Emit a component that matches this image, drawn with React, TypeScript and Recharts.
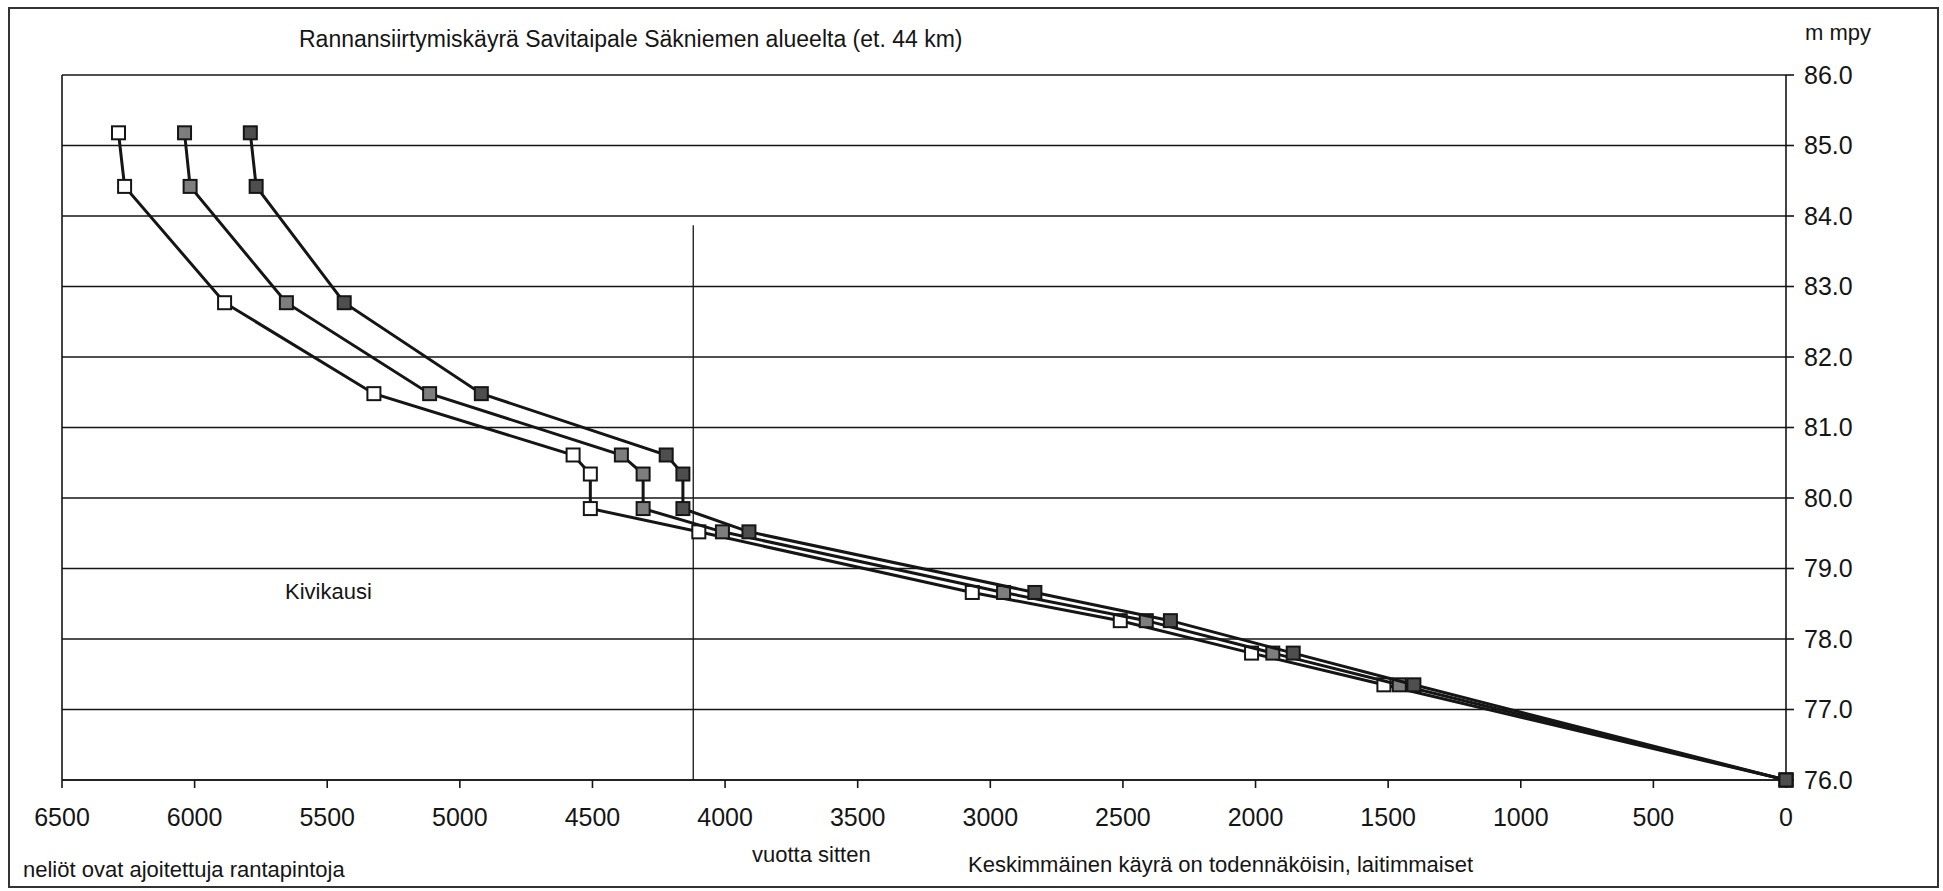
import React from 'react';
import {
  ScatterChart,
  Scatter,
  XAxis,
  YAxis,
  CartesianGrid,
  ReferenceLine,
} from 'recharts';

// shore levels (m above sea level), shared by all three curves
const heights = [85.18, 84.42, 82.77, 81.48, 80.61, 80.34, 79.85, 79.52, 78.66, 78.26, 77.8, 77.35, 76.0];
// years before present for each curve
const yearsOldest = [6287, 6264, 5887, 5324, 4573, 4508, 4508, 4099, 3068, 2510, 2015, 1516, 0];
const yearsMiddle = [6038, 6017, 5654, 5114, 4391, 4309, 4309, 4010, 2950, 2412, 1935, 1458, 0];
const yearsYoungest = [5790, 5768, 5436, 4919, 4222, 4159, 4159, 3910, 2832, 2321, 1858, 1403, 0];

const xTicks = [0, 500, 1000, 1500, 2000, 2500, 3000, 3500, 4000, 4500, 5000, 5500, 6000, 6500];
const yTicks = [76, 77, 78, 79, 80, 81, 82, 83, 84, 85, 86];

const stoneAgeYear = 4120;
const stoneAgeTop = 83.87;

const W = 1943;
const H = 891;
const FONT = '"Liberation Sans", Arial, sans-serif';
const INK = '#151515';

const toPoints = (years: number[]) => years.map((x, i) => ({ x, y: heights[i] }));

const square = (fill: string) => (props: any) => (
  <rect
    x={props.cx - 6.5}
    y={props.cy - 6.5}
    width={13}
    height={13}
    fill={fill}
    stroke={INK}
    strokeWidth={2}
  />
);

export default function App() {
  return (
    <div style={{ position: 'absolute', left: 0, top: 0, width: W, height: H, background: '#fff' }}>
      <ScatterChart
        width={W}
        height={H}
        margin={{ top: 75, right: 57, bottom: 51, left: 62 }}
      >
        <CartesianGrid vertical={false} stroke={INK} strokeWidth={1.6} />
        <XAxis
          type="number"
          dataKey="x"
          reversed
          domain={[0, 6500]}
          ticks={xTicks}
          height={60}
          interval={0}
          tickSize={8}
          tickMargin={20}
          stroke={INK}
          strokeWidth={1.6}
          tick={{ fontSize: 25, fill: INK, fontFamily: FONT }}
        />
        <YAxis
          type="number"
          dataKey="y"
          orientation="right"
          domain={[76, 86]}
          ticks={yTicks}
          width={100}
          interval={0}
          tickSize={8}
          tickMargin={10}
          stroke={INK}
          strokeWidth={1.6}
          tickFormatter={(v: number) => v.toFixed(1)}
          tick={{ fontSize: 25, fill: INK, fontFamily: FONT, textAnchor: 'start' }}
        />
        <ReferenceLine x={6500} stroke={INK} strokeWidth={1.6} />
        <ReferenceLine
          segment={[
            { x: stoneAgeYear, y: 76 },
            { x: stoneAgeYear, y: stoneAgeTop },
          ]}
          stroke={INK}
          strokeWidth={1.3}
        />
        <Scatter
          data={toPoints(yearsOldest)}
          line={{ stroke: INK, strokeWidth: 3 }}
          shape={square('#ffffff')}
          isAnimationActive={false}
        />
        <Scatter
          data={toPoints(yearsMiddle)}
          line={{ stroke: INK, strokeWidth: 3 }}
          shape={square('#7e7e7e')}
          isAnimationActive={false}
        />
        <Scatter
          data={toPoints(yearsYoungest)}
          line={{ stroke: INK, strokeWidth: 3 }}
          shape={square('#4e4e4e')}
          isAnimationActive={false}
        />
      </ScatterChart>
      <svg
        width={W}
        height={H}
        style={{ position: 'absolute', left: 0, top: 0, pointerEvents: 'none' }}
        fontFamily={FONT}
        fill={INK}
      >
        <rect x={9} y={8} width={1929} height={879} fill="none" stroke="#333" strokeWidth={2} />
        <text x={299} y={47} fontSize={23}>
          Rannansiirtymiskäyrä Savitaipale Säkniemen alueelta (et. 44 km)
        </text>
        <text x={1805} y={40} fontSize={22}>m mpy</text>
        <text x={285} y={599} fontSize={22}>Kivikausi</text>
        <text x={752} y={862} fontSize={22}>vuotta sitten</text>
        <text x={23} y={877} fontSize={22}>neliöt ovat ajoitettuja rantapintoja</text>
        <text x={968} y={872} fontSize={22}>Keskimmäinen käyrä on todennäköisin, laitimmaiset</text>
      </svg>
    </div>
  );
}
